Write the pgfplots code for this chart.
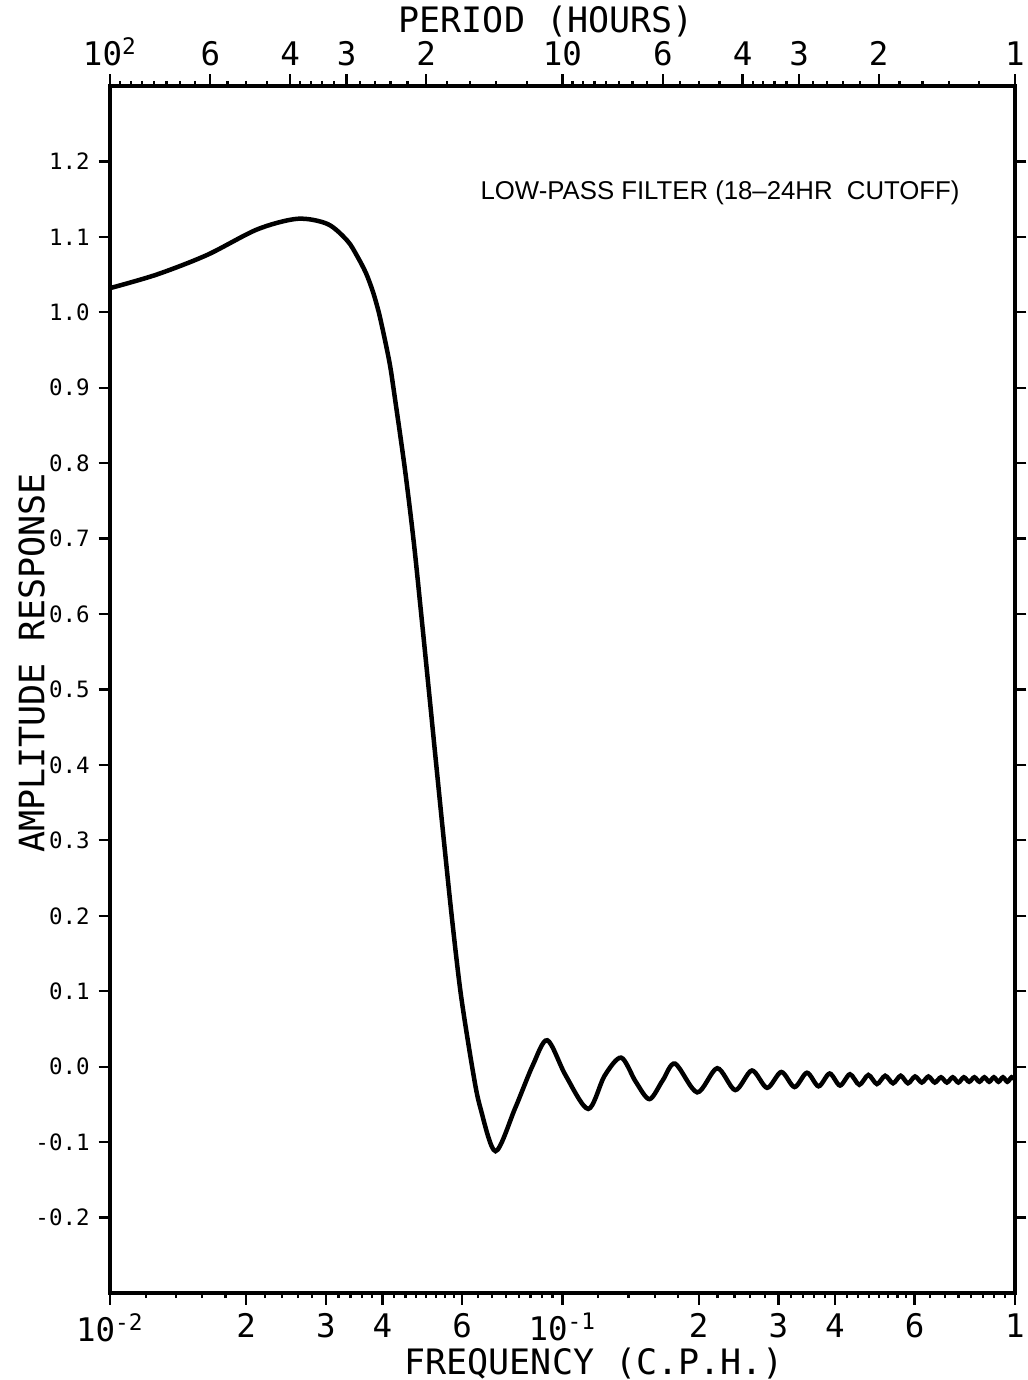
\documentclass[border=0pt]{standalone}
\usepackage{fontspec}
\setmainfont{DejaVu Sans Mono}
\newfontfamily\annfont{Liberation Sans}
\usepackage{pgfplots}
\usepackage{pgfplotstable}
\pgfplotsset{compat=1.18}
\usetikzlibrary{calc}

\pgfplotstableread{
f v
0.01000 1.032
0.01268 1.050
0.01639 1.076
0.02117 1.110
0.02598 1.124
0.03027 1.117
0.03345 1.095
0.03514 1.075
0.03679 1.052
0.03813 1.027
0.03931 0.999
0.04053 0.963
0.04157 0.930
0.04242 0.895
0.04481 0.794
0.04691 0.696
0.04886 0.593
0.05076 0.494
0.05273 0.394
0.05481 0.294
0.05705 0.194
0.05965 0.095
0.06339 -0.006
0.06581 -0.054
0.07112 -0.112
0.0786 -0.055
0.0860 0.002
0.0926 0.035
0.1017 -0.012
0.1140 -0.056
0.1239 -0.012
0.1348 0.012
0.1452 -0.020
0.1557 -0.043
0.1666 -0.018
0.1774 0.004
0.1985 -0.034
0.2198 -0.002
0.2409 -0.031
0.2622 -0.005
0.2833 -0.028
0.3046 -0.007
0.3257 -0.027
0.3470 -0.008
0.3681 -0.026
0.3894 -0.009
0.4105 -0.025
0.4318 -0.010
0.4529 -0.024
0.4742 -0.011
0.4953 -0.023
0.5166 -0.012
0.5377 -0.022
0.5590 -0.012
0.5801 -0.022
0.6014 -0.013
0.6225 -0.021
0.6438 -0.013
0.6649 -0.021
0.6862 -0.014
0.7073 -0.021
0.7286 -0.014
0.7497 -0.021
0.7710 -0.014
0.7921 -0.020
0.8134 -0.014
0.8345 -0.020
0.8558 -0.014
0.8769 -0.020
0.8982 -0.014
0.9193 -0.020
0.9406 -0.014
0.9617 -0.020
0.9830 -0.014
1.0000 -0.017
}\resp

\begin{document}
\begin{tikzpicture}
\begin{axis}[
  scale only axis, width=362pt, height=482.8pt,
  xmode=log, xmin=0.01, xmax=1, ymin=-0.3, ymax=1.3,
  clip=false,
  axis line style={line width=1.4pt},
  tick align=outside,
  xtick pos=bottom,
  ytick pos=both, yticklabel pos=left,
  xtick={0.01,0.02,0.03,0.04,0.06,0.1,0.2,0.3,0.4,0.6,1},
  xticklabels={10\textsuperscript{-2},2,3,4,6,10\textsuperscript{-1},2,3,4,6,1},
  minor xtick={0.012,0.014,0.016,0.018,0.022,0.024,0.026,0.028,0.032,0.034,0.036,0.038,0.0425,0.045,0.0475,0.05,0.0525,0.055,0.0575,0.065,0.07,0.075,0.08,0.085,0.09,0.095,
    0.12,0.14,0.16,0.18,0.22,0.24,0.26,0.28,0.32,0.34,0.36,0.38,0.425,0.45,0.475,0.5,0.525,0.55,0.575,0.65,0.7,0.75,0.8,0.85,0.9,0.95},
  ytick={-0.2,-0.1,0,0.1,0.2,0.3,0.4,0.5,0.6,0.7,0.8,0.9,1.0,1.1,1.2},
  yticklabels={-0.2,-0.1,0.0,0.1,0.2,0.3,0.4,0.5,0.6,0.7,0.8,0.9,1.0,1.1,1.2},
  major tick length=4.6pt, minor tick length=2pt,
  every tick/.style={black, line width=0.9pt},
  xticklabel style={font=\fontsize{13}{14}\selectfont},
  yticklabel style={font=\fontsize{9}{10}\selectfont},
  xlabel={FREQUENCY (C.P.H.)}, ylabel={AMPLITUDE RESPONSE},
  label style={font=\fontsize{14}{15}\selectfont},
  xlabel style={at={(axis description cs:0.535,-0.0672)}, anchor=base},
  ylabel style={at={(axis description cs:-0.0725,0.522)}, anchor=base},
]
\coordinate (SW) at (rel axis cs:0,0);
\coordinate (NE) at (rel axis cs:1,1);
\addplot[black, line width=1.8pt, smooth] table[x=f, y=v] {\resp};
\node[anchor=base west, inner sep=0pt, font=\annfont\fontsize{10.3}{12}\selectfont] at (axis description cs:0.409,0.9056) {LOW-PASS FILTER (18\textendash 24HR\ \ CUTOFF)};
\end{axis}
\begin{axis}[
  scale only axis, width=362pt, height=482.8pt,
  xmode=log, xmin=0.01, xmax=1, ymin=-0.3, ymax=1.3,
  axis x line*=top, axis y line=none,
  axis line style={line width=1.4pt, -},
  tick align=outside,
  xtick={0.01,0.0166667,0.025,0.0333333,0.05,0.1,0.166667,0.25,0.333333,0.5,1},
  xticklabels={10\textsuperscript{2},6,4,3,2,10,6,4,3,2,1},
  minor xtick={0.010526,0.011111,0.011765,0.0125,0.013333,0.014286,0.015385,0.018182,0.02,0.022222,0.026316,0.027778,0.029412,0.03125,0.035714,0.038462,0.041667,0.045455,0.055556,0.0625,0.071429,0.083333,
    0.10526,0.11111,0.11765,0.125,0.13333,0.14286,0.15385,0.18182,0.2,0.22222,0.26316,0.27778,0.29412,0.3125,0.35714,0.38462,0.41667,0.45455,0.55556,0.625,0.71429,0.83333},
  major tick length=4.6pt, minor tick length=2pt,
  every tick/.style={black, line width=0.9pt},
  xticklabel style={font=\fontsize{13}{14}\selectfont},
  xlabel={PERIOD (HOURS)},
  xlabel style={font=\fontsize{14}{15}\selectfont, at={(axis description cs:0.482,1.0440)}, anchor=base},
]
\end{axis}
\pgfresetboundingbox
\path[use as bounding box] ($(SW)+(-44pt,-34.8pt)$) rectangle ($(NE)+(5.2pt,34.4pt)$);
\end{tikzpicture}
\end{document}
